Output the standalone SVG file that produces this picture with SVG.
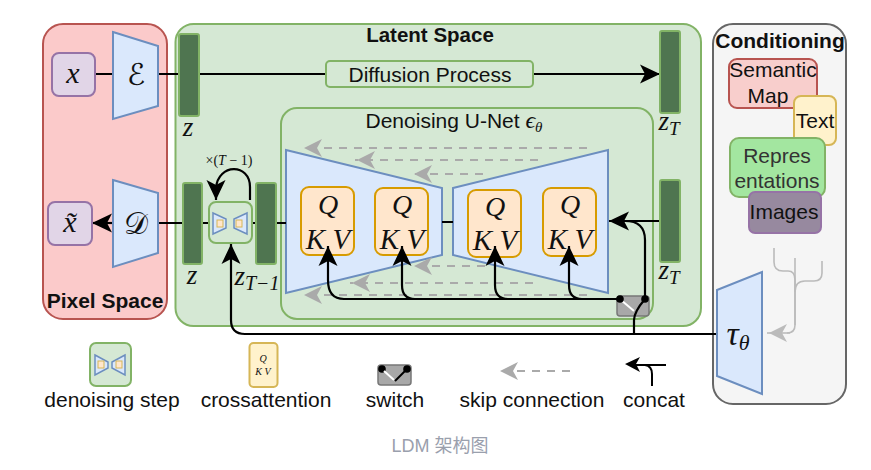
<svg xmlns="http://www.w3.org/2000/svg" width="871" height="470" viewBox="0 0 871 470">
<style>
text{font-family:"Liberation Sans",Arial,sans-serif;fill:#111;text-anchor:middle}
.m{font-family:"Liberation Serif","DejaVu Serif",serif;font-style:italic}
.c{font-family:"DejaVu Sans","Noto Sans",serif;font-style:normal}
.lb{font-size:21px}
.b{font-weight:bold}
.bar{fill:#4f7550;stroke:#82b366;stroke-width:2}
.trap{fill:#dae8fc;stroke:#6c8ebf;stroke-width:2}
.pur{fill:#e1d5e7;stroke:#9673a6;stroke-width:2}
.q{fill:#ffe6cc;stroke:#d79b00;stroke-width:2}
.w{fill:none;stroke:#000;stroke-width:2.2}
.g{fill:none;stroke:#aaa;stroke-width:2;stroke-dasharray:8 7}
.t{fill:none;stroke:#bbb;stroke-width:1.600}
</style>
<defs>
<marker id="a" markerUnits="userSpaceOnUse" markerWidth="24" markerHeight="24" refX="20" refY="12" orient="auto"><path d="M0 2.500L20 12L0 21.500L5 12Z" fill="#000"/></marker>
<marker id="ag" markerUnits="userSpaceOnUse" markerWidth="24" markerHeight="24" refX="20" refY="12" orient="auto"><path d="M0 3L18 12L0 21L5 12Z" fill="#aaa"/></marker>
<marker id="ac" markerUnits="userSpaceOnUse" markerWidth="24" markerHeight="24" refX="20" refY="12" orient="auto"><path d="M0 3L18 12L0 21L5 12Z" fill="#bbb"/></marker>
</defs>
<rect width="871" height="470" fill="#fff"/>
<g id="pixel-space"><rect x="43" y="24" width="124" height="295" rx="20" fill="#fbcaca" stroke="#b85450" stroke-width="2"/><text x="105" y="308" class="b" font-size="21">Pixel Space</text></g>
<g id="latent-space"><rect x="175.500" y="24" width="525.500" height="302" rx="18" fill="#d5e8d4" stroke="#82b366" stroke-width="2"/><text x="430" y="42" class="b" font-size="20.500">Latent Space</text></g>
<g id="conditioning"><rect x="713" y="24" width="133" height="380" rx="20" fill="#f5f5f5" stroke="#666" stroke-width="2"/><text x="780" y="48" class="b" font-size="21">Conditioning</text></g>
<g id="unet"><rect x="281" y="108" width="372" height="211" rx="16" fill="#d5e8d4" stroke="#82b366" stroke-width="2"/><text x="454" y="128" font-size="21">Denoising U-Net <tspan class="m" font-size="24">ϵ</tspan><tspan class="m" font-size="15" dy="4">θ</tspan></text></g>
<g id="skips">
<path class="g" marker-end="url(#ag)" d="M587 148H302"/><path class="g" marker-end="url(#ag)" d="M538 160H355"/><path class="g" marker-end="url(#ag)" d="M483 174H412"/>
</g>
<g id="unet-enc"><path class="trap" d="M286 150L442 188V255L286 293Z"/></g>
<g id="unet-dec"><path class="trap" d="M453 188L608 150V293L453 255Z"/></g>
<g id="skips-low">
<path class="g" marker-end="url(#ag)" d="M485 266H412"/><path class="g" marker-end="url(#ag)" d="M533 283H350"/><path class="g" marker-end="url(#ag)" d="M587 295H302"/>
</g>
<g id="q1"><rect class="q" x="301" y="187" width="53" height="68" rx="8"/><text class="m" font-size="28" x="328" y="214">Q</text><text class="m" font-size="29" x="328" y="249">K V</text></g>
<g id="q2"><rect class="q" x="375" y="188" width="53" height="67" rx="8"/><text class="m" font-size="28" x="402" y="214">Q</text><text class="m" font-size="29" x="402" y="249">K V</text></g>
<g id="q3"><rect class="q" x="468" y="190" width="53" height="67" rx="8"/><text class="m" font-size="28" x="495" y="216">Q</text><text class="m" font-size="29" x="495" y="250">K V</text></g>
<g id="q4"><rect class="q" x="543" y="188" width="53" height="68" rx="8"/><text class="m" font-size="28" x="570" y="214">Q</text><text class="m" font-size="29" x="570" y="249">K V</text></g>
<g id="switch"><rect x="617" y="296" width="32" height="20" rx="3" fill="#a8a8a8" stroke="#777" stroke-width="1.500"/><path d="M621 300L634 311" stroke="#fff" stroke-width="2"/></g>
<g id="connectors">
<path class="w" d="M95 74H113M158 74H179"/>
<path class="w" marker-end="url(#a)" d="M199 74H660"/>
<path class="w" d="M158 223H183M202 223H209M252 223H256M276 223H286M442 222H453"/>
<path class="w" marker-end="url(#a)" d="M113 223H92"/>
<path class="w" marker-end="url(#a)" d="M250 200V187C250 163 218 163 216 188Q216 196 216 200"/>
<path class="w" marker-end="url(#a)" d="M717 334H245Q231 334 231 320V244"/>
<path class="w" d="M620 299H344"/>
<path class="w" marker-end="url(#a)" d="M344 299Q328 299 328 280V246"/>
<path class="w" marker-end="url(#a)" d="M415 299Q402 299 402 285V246"/>
<path class="w" marker-end="url(#a)" d="M508 299Q495 299 495 285V246"/>
<path class="w" marker-end="url(#a)" d="M582 299Q569 299 569 285V246"/>
<path class="w" marker-end="url(#a)" d="M660 221H609"/>
<path class="w" d="M625 221Q645 221 645 240V299"/>
<path class="w" d="M634 334V320Q634 312 645 299"/>
<circle cx="620" cy="299" r="3.800"/><circle cx="645" cy="299" r="3.800"/>
<path class="t" d="M774 248V262Q774 271 783 271H788Q795 271 795 280V325Q795 333 787 333"/>
<path class="t" d="M795 258V325"/>
<path class="t" d="M822 261V273Q822 281 814 281H805Q795 281 795 292"/>
<path class="t" marker-end="url(#ac)" d="M790 333H767"/>
</g>
<g id="x"><rect class="pur" x="52" y="53" width="43" height="43" rx="7"/><text class="m" font-size="30" x="73" y="83">x</text></g>
<g id="encoder"><path class="trap" d="M113 32L158 46V106L113 119Z"/><text class="c" font-size="30" x="136" y="85">ℰ</text></g>
<g id="xtilde"><rect class="pur" x="48" y="202" width="44" height="43" rx="7"/><text class="m" font-size="30" x="70" y="232">x̃</text></g>
<g id="decoder"><path class="trap" d="M113 180L158 193V253L113 267Z"/><text class="c" font-size="30" x="136" y="234">𝒟</text></g>
<g id="z1"><rect class="bar" x="179" y="34" width="20" height="82" rx="2"/><text class="m" font-size="27" x="188" y="136">z</text></g>
<g id="z2"><rect class="bar" x="183" y="183" width="19" height="81" rx="2"/><text class="m" font-size="27" x="192" y="284">z</text></g>
<g id="step"><rect x="209" y="202" width="43" height="41" rx="7" fill="#d5e8d4" stroke="#82b366" stroke-width="2"/>
<path d="M213 213L226 219V228L213 234ZM247 213L234 219V228L247 234Z" fill="#dae8fc" stroke="#6c8ebf" stroke-width="1.500"/><rect x="217" y="220" width="6" height="7" fill="#ffe6cc" stroke="#d6b656"/><rect x="236" y="220" width="6" height="7" fill="#ffe6cc" stroke="#d6b656"/></g>
<text x="229" y="165" class="m" font-size="14" style="font-style:normal">×(<tspan class="m">T</tspan> − 1)</text>
<g id="zt1"><rect class="bar" x="256" y="183" width="20" height="81" rx="2"/><text class="m" font-size="27" x="257" y="285">z<tspan font-size="20" dy="5">T−1</tspan></text></g>
<g id="zt-top"><rect class="bar" x="660" y="31" width="20" height="82" rx="2"/><text class="m" font-size="27" x="669" y="130">z<tspan font-size="19" dy="5">T</tspan></text></g>
<g id="zt-low"><rect class="bar" x="660" y="180" width="20" height="82" rx="2"/><text class="m" font-size="27" x="669" y="279">z<tspan font-size="19" dy="5">T</tspan></text></g>
<g id="diffusion"><rect x="326" y="61" width="207" height="26" rx="4" fill="#d5e8d4" stroke="#82b366" stroke-width="2"/><text x="430" y="82" font-size="21">Diffusion Process</text></g>
<g id="semantic"><rect x="729" y="59" width="88" height="49" rx="8" fill="#f8cecc" stroke="#b85450" stroke-width="2"/><text x="773" y="77" font-size="21">Semantic</text><text x="768" y="103" font-size="21">Map</text></g>
<g id="text"><rect x="794" y="96" width="42" height="49" rx="7" fill="#fff2cc" stroke="#d6b656" stroke-width="2"/><text x="815" y="128" font-size="21">Text</text></g>
<g id="repr"><rect x="730" y="138" width="95" height="59" rx="9" fill="#a3e6a0" stroke="#82b366" stroke-width="2"/><text x="777" y="163" font-size="21" style="fill:#333">Repres</text><text x="777" y="188" font-size="21" style="fill:#333">entations</text></g>
<g id="images"><rect x="749" y="192" width="72" height="41" rx="6" fill="#97899f" stroke="#9673a6" stroke-width="2"/><text x="784" y="219" font-size="21">Images</text></g>
<g id="tau"><path class="trap" d="M717 290L762 272V394L717 376Z"/><text class="m" font-size="34" x="738" y="345">τ<tspan font-size="22" dy="5">θ</tspan></text></g>
<g id="legend">
<g><rect x="90" y="343" width="41" height="43" rx="6" fill="#d5e8d4" stroke="#82b366" stroke-width="2"/><path d="M95 355L108 362V368L95 375ZM125 355L112 362V368L125 375Z" fill="#dae8fc" stroke="#6c8ebf" stroke-width="1.500"/><rect x="98" y="361" width="6" height="7" fill="#ffe6cc" stroke="#d6b656"/><rect x="116" y="361" width="6" height="7" fill="#ffe6cc" stroke="#d6b656"/></g>
<g><rect x="249.500" y="343" width="28" height="44" rx="4" fill="#fff2cc" stroke="#d6b656" stroke-width="2"/><text class="m" font-size="10" x="263" y="362">Q</text><text class="m" font-size="10" x="263" y="375">K V</text></g>
<g><rect x="378" y="365" width="33" height="20" rx="3" fill="#a8a8a8" stroke="#777" stroke-width="1.500"/><circle cx="382" cy="369" r="3.800"/><circle cx="407" cy="369" r="3.800"/><path d="M384 371L394 380" stroke="#fff" stroke-width="2"/><path d="M395 381L406 370" stroke="#000" stroke-width="2"/></g>
<path class="g" marker-end="url(#ag)" d="M570 371H498"/>
<path fill="none" stroke="#000" stroke-width="2" d="M666 365H636"/>
<path d="M625 364L640 357L636 364L640 372Z"/>
<path fill="none" stroke="#000" stroke-width="2" d="M652 386V374Q652 366 645 365"/>
<text class="lb" x="112" y="407">denoising step</text><text class="lb" x="266" y="407">crossattention</text><text class="lb" x="395" y="407">switch</text><text class="lb" x="532" y="407">skip connection</text><text class="lb" x="654" y="407">concat</text>
</g>
<text x="440" y="452" font-size="18" style="fill:#9aa0ad;font-family:'Liberation Sans','Noto Sans CJK SC',sans-serif">LDM 架构图</text>
</svg>
